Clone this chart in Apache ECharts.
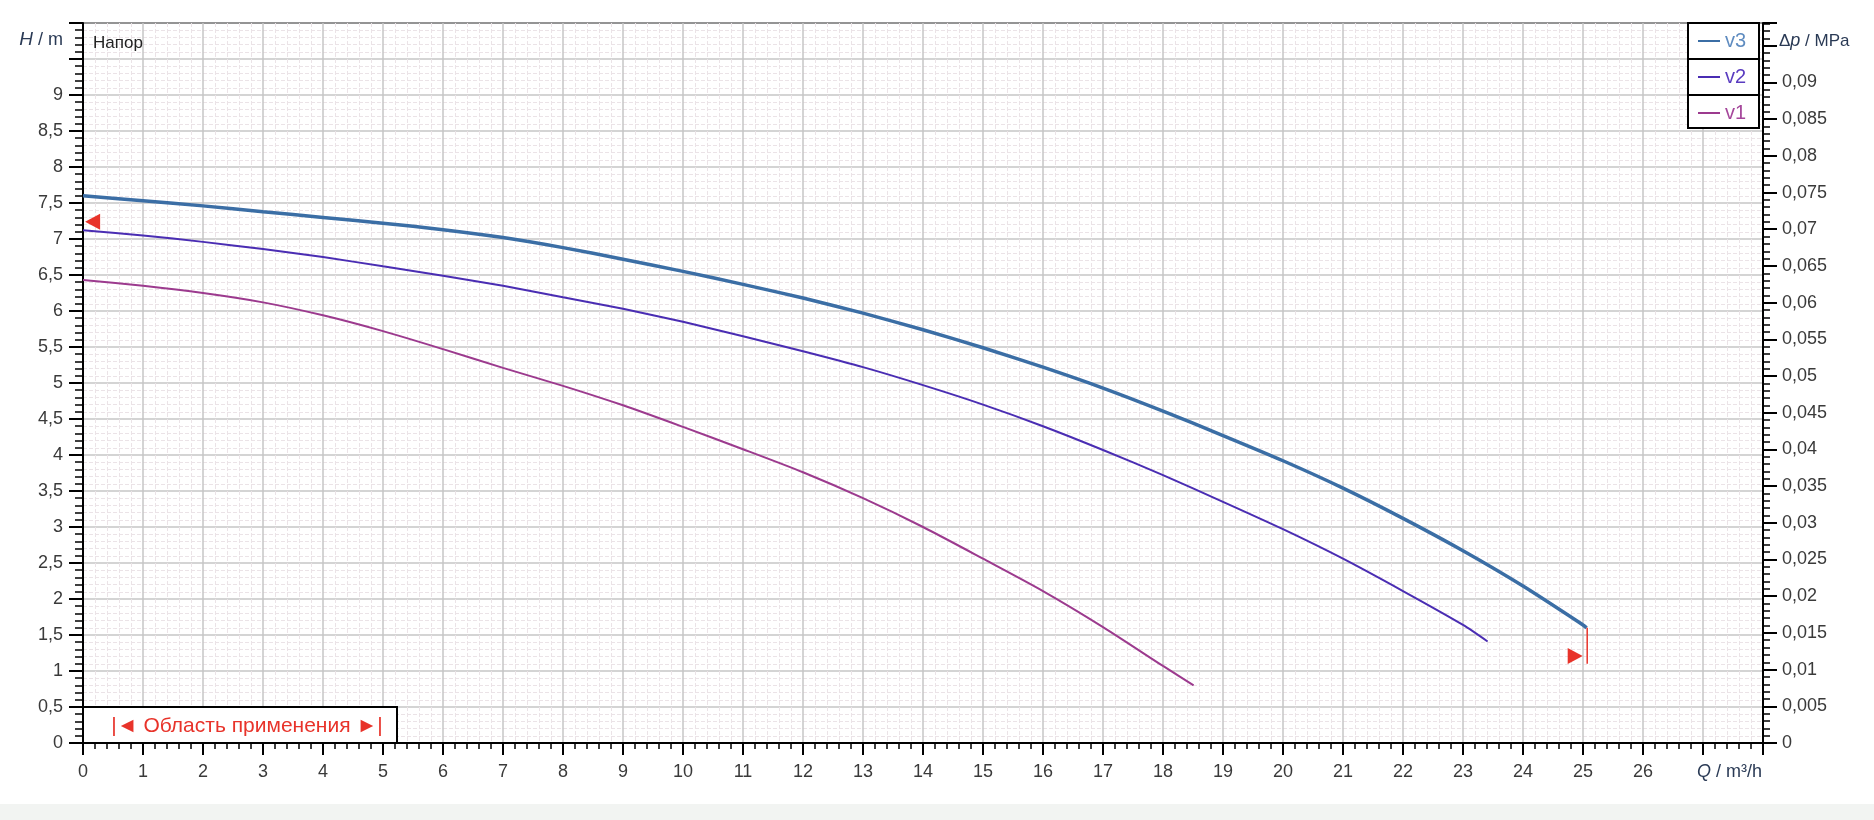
<!DOCTYPE html>
<html><head><meta charset="utf-8">
<script src="https://cdn.jsdelivr.net/npm/echarts@6/dist/echarts.min.js"></script>
<style>html,body{margin:0;padding:0;background:#fff}#c{width:1874px;height:820px}</style>
</head><body><div id="c"></div>
<script>
// ---- data ----
const seriesNames = ['v3', 'v2', 'v1'];
const v3Q = [0,1,2,3,4,5,6,7,8,9,10,11,12,13,14,15,16,17,18,19,20,21,22,23,24,25,25.06];
const v3H = [7.6,7.53,7.46,7.38,7.30,7.22,7.13,7.02,6.88,6.72,6.55,6.37,6.18,5.97,5.74,5.49,5.22,4.93,4.61,4.27,3.92,3.54,3.12,2.67,2.18,1.64,1.60];
const v2Q = [0,1,2,3,4,5,6,7,8,9,10,11,12,13,14,15,16,17,18,19,20,21,22,23,23.41];
const v2H = [7.12,7.05,6.96,6.86,6.75,6.62,6.49,6.35,6.19,6.03,5.85,5.65,5.44,5.22,4.97,4.70,4.40,4.07,3.72,3.35,2.97,2.56,2.11,1.64,1.41];
const v1Q = [0,1,2,3,4,5,6,7,8,9,10,11,12,13,14,15,16,17,18,18.51];
const v1H = [6.43,6.35,6.25,6.12,5.94,5.72,5.47,5.21,4.96,4.69,4.39,4.08,3.76,3.40,3.0,2.56,2.11,1.61,1.07,0.80];
// application-range markers
const limitLeft = [0.16, 7.24];
const limitRight = [24.87, 1.21];
const limitLineQ = [25.07, 25.07];
const limitLineH = [1.6, 1.1];
// axes
const qMax = 28, qLabelMax = 26;
const hMax = 10, hLabelMax = 9;
const mpaPerMeter = 0.00981;
const pLabelMax = 0.09;
const labels = { title: 'Напор', range: '|◄ Область применения ►|' };

const colors = { v3: '#3b6ea5', v2: '#4a2db3', v1: '#9c3a8e' };
const legendText = { v3: '#5f8cc0', v2: '#5a3cc0', v1: '#a5479b' };
const FONT = '"Liberation Sans", Arial, sans-serif';
const zip = (a, b) => a.map((x, i) => [x, b[i]]);
const fmt = (v, d) => String(+v.toFixed(d)).replace('.', ',');

const G = { left: 83, top: 23, right: 111, bottom: 77 };
const chart = echarts.init(document.getElementById('c'));

const lineData = { v3: zip(v3Q, v3H), v2: zip(v2Q, v2H), v1: zip(v1Q, v1H) };
const widths = { v3: 3.5, v2: 2, v1: 2 };

const series = seriesNames.map(n => ({
  name: n, type: 'line', data: lineData[n], smooth: 0.25, showSymbol: false, symbol: 'none',
  lineStyle: { color: colors[n], width: widths[n] }, itemStyle: { color: colors[n] }, z: 3
}));
series.push({
  name: 'limitLine', type: 'line', data: zip(limitLineQ, limitLineH), showSymbol: false, symbol: 'none',
  lineStyle: { color: '#e8332a', width: 1.5 }, z: 4
});
series.push({
  name: 'limits', type: 'scatter',
  data: [{ value: limitLeft, symbolRotate: 90 }, { value: limitRight, symbolRotate: -90 }],
  symbol: 'triangle', symbolSize: [16, 15], itemStyle: { color: '#e8332a', opacity: 1 }, z: 5
});
series.push({ name: 'p', type: 'line', yAxisIndex: 1, data: [], silent: true });

const legendRows = [41, 77, 113];
const legends = seriesNames.map((n, i) => ({
  data: [{ name: n, textStyle: { color: legendText[n] } }],
  left: 1698, top: legendRows[i] - 11, orient: 'vertical', icon: 'rect',
  itemWidth: 22, itemHeight: 2, padding: 0, selectedMode: false, z: 6,
  textStyle: { fontSize: 20, fontFamily: FONT, lineHeight: 22 }
}));

const axisLabelStyle = { color: '#3a3a3a', fontSize: 18, fontFamily: FONT };

chart.setOption({
  animation: false,
  backgroundColor: '#fff',
  grid: { left: G.left, top: G.top, right: G.right, bottom: G.bottom, show: true, borderColor: '#000', borderWidth: 2, backgroundColor: 'transparent', containLabel: false },
  legend: legends,
  xAxis: {
    type: 'value', min: 0, max: qMax, interval: 1,
    axisLine: { show: true, onZero: false, lineStyle: { color: '#000', width: 2 } },
    axisTick: { show: true, length: 12, lineStyle: { color: '#000', width: 2 } },
    minorTick: { show: true, splitNumber: 5, length: 6, lineStyle: { color: '#000', width: 1.5 } },
    axisLabel: Object.assign({ margin: 20, formatter: v => v > qLabelMax ? '' : fmt(v, 0) }, axisLabelStyle),
    splitLine: { show: true, lineStyle: { color: '#c6c6c6', width: 1.5 } },
    minorSplitLine: { show: true, lineStyle: { color: '#ebe3e7', width: 1, type: [4, 2] } }
  },
  yAxis: [{
    type: 'value', min: 0, max: hMax, interval: 0.5, position: 'left',
    axisLine: { show: true, onZero: false, lineStyle: { color: '#000', width: 2 } },
    axisTick: { show: true, length: 14, lineStyle: { color: '#000', width: 2 } },
    minorTick: { show: true, splitNumber: 5, length: 8, lineStyle: { color: '#000', width: 1.5 } },
    axisLabel: Object.assign({ margin: 20, formatter: v => v > hLabelMax + 0.01 ? '' : fmt(v, 1) }, axisLabelStyle),
    splitLine: { show: true, lineStyle: { color: '#c6c6c6', width: 1.5 } },
    minorSplitLine: { show: true, lineStyle: { color: '#ebe3e7', width: 1, type: [4, 2] } }
  }, {
    type: 'value', min: 0, max: hMax * mpaPerMeter, interval: 0.005, position: 'right',
    axisLine: { show: true, onZero: false, lineStyle: { color: '#000', width: 2 } },
    axisTick: { show: true, length: 14, lineStyle: { color: '#000', width: 2 } },
    minorTick: { show: true, splitNumber: 5, length: 7, lineStyle: { color: '#000', width: 1.5 } },
    axisLabel: Object.assign({ margin: 19, formatter: v => v > pLabelMax + 0.0001 ? '' : fmt(v, 3) }, axisLabelStyle),
    splitLine: { show: false }
  }],
  series: series,
  graphic: [
    { type: 'rect', shape: { x: 0, y: 804, width: 1874, height: 16 }, style: { fill: '#f2f4f2' }, z: 1 },
    { type: 'text', x: 63, y: 40, z: 6, style: { text: '{i|H} / m', align: 'right', verticalAlign: 'middle', fill: '#2a3a55', font: '18px ' + FONT,
        rich: { i: { fontStyle: 'italic', fontSize: 19, fontFamily: FONT, fill: '#2a3a55' } } } },
    { type: 'text', x: 1779, y: 41, z: 6, style: { text: 'Δ{i|p} / MPa', align: 'left', verticalAlign: 'middle', fill: '#2a3a55', font: '17px ' + FONT,
        rich: { i: { fontStyle: 'italic', fontSize: 18, fontFamily: FONT, fill: '#2a3a55' } } } },
    { type: 'text', x: 1762, y: 772, z: 6, style: { text: '{i|Q} / m³/h', align: 'right', verticalAlign: 'middle', fill: '#2a3a55', font: '18px ' + FONT,
        rich: { i: { fontStyle: 'italic', fontSize: 18, fontFamily: FONT, fill: '#2a3a55' } } } },
    { type: 'text', x: 93, y: 43, z: 6, style: { text: labels.title, align: 'left', verticalAlign: 'middle', fill: '#222', font: '17px ' + FONT } },
    { type: 'rect', shape: { x: 1688, y: 23, width: 71, height: 105 }, style: { fill: '#fff', stroke: '#000', lineWidth: 2 }, z: 3 },
    { type: 'line', shape: { x1: 1688, y1: 59, x2: 1759, y2: 59 }, style: { stroke: '#000', lineWidth: 2 }, z: 3 },
    { type: 'line', shape: { x1: 1688, y1: 95, x2: 1759, y2: 95 }, style: { stroke: '#000', lineWidth: 2 }, z: 3 },
    { type: 'rect', shape: { x: 83, y: 707, width: 314, height: 36 }, style: { fill: '#fff', stroke: '#000', lineWidth: 2 }, z: 3 },
    { type: 'text', x: 247, y: 726, z: 6, style: { text: labels.range, align: 'center', verticalAlign: 'middle', fill: '#e8332a', font: '21px ' + FONT } }
  ]
});
</script></body></html>
